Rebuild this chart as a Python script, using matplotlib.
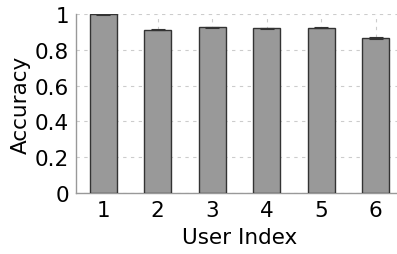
import numpy as np
import matplotlib
matplotlib.use("Agg")
import matplotlib.pyplot as plt

plt.rcParams['font.family'] = ['DejaVu Sans']

# data
users = [1, 2, 3, 4, 5, 6]
accuracy = [0.999, 0.911, 0.926, 0.920, 0.924, 0.866]
err = [0.002, 0.003, 0.003, 0.003, 0.003, 0.003]

fig = plt.figure(figsize=(3.97, 2.55), dpi=100)
ax = fig.add_axes([76/397, 1 - 194/255, 327/397, 179/255])

ax.bar(users, accuracy, width=0.5, color='#999999', edgecolor='#333333',
       linewidth=1.0, yerr=err, capsize=5,
       error_kw=dict(ecolor='#333333', elinewidth=0.8, capthick=0.8),
       zorder=3)

ax.set_xlim(0.5, 6.5)
ax.set_ylim(0, 1)
ax.set_yticks([0, 0.2, 0.4, 0.6, 0.8, 1])
ax.set_yticklabels(['0', '0.2', '0.4', '0.6', '0.8', '1'])
ax.set_xticks(users)
ax.grid(True, linestyle=(0, (3, 4)), color='#cccccc', linewidth=0.8, zorder=0)
ax.tick_params(length=0, labelsize=15.5, pad=5)

for s in ['top', 'right']:
    ax.spines[s].set_visible(False)
for s in ['left', 'bottom']:
    ax.spines[s].set_color('#999999')
    ax.spines[s].set_linewidth(1.0)

ax.set_xlabel('User Index', fontsize=15.5, labelpad=5)
ax.set_ylabel('Accuracy', fontsize=15.5, labelpad=3)

fig.savefig('out.png', dpi=100)
